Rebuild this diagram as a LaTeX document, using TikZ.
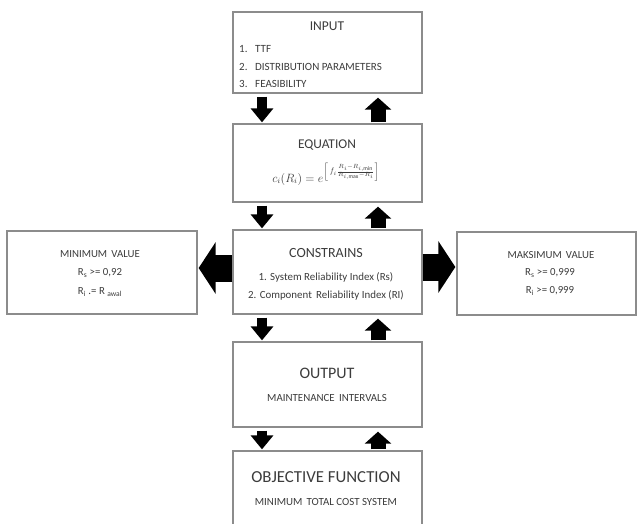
\documentclass[tikz,border=0pt]{standalone}
\usepackage{fontspec}
\setmainfont{Carlito}
\usetikzlibrary{arrows.meta,calc}
\definecolor{txt}{HTML}{3C3C3C}
\definecolor{edge}{HTML}{8C8C8C}
\tikzset{
  box/.style={draw=edge, line width=1.3pt, fill=white, inner sep=0pt},
  lbl/.style={text=txt, inner sep=0pt, font=\fontsize{#1}{#1}\selectfont},
  lbl/.default=11,
  downarrow/.style={line width=10pt, -{Triangle[width=22pt,length=14pt]}},
  uparrow/.style={line width=15pt, -{Triangle[width=26pt,length=12pt]}},
  sidearrow/.style={line width=27pt, -{Triangle[width=51pt,length=17pt]}},
}
\begin{document}
\begin{tikzpicture}[x=1pt,y=-1pt]
\clip (0,0) rectangle (638,523);
\fill[white] (0,0) rectangle (638,523);

% boxes of the central column
\node[box, minimum width=189pt, minimum height=81pt] (input) at (327.5,52.5) {};
\node[box, minimum width=189pt, minimum height=78pt] (eq)    at (327.5,163) {};
\node[box, minimum width=189pt, minimum height=84pt] (cons)  at (327.5,272) {};
\node[box, minimum width=189pt, minimum height=85pt] (out)   at (327.5,384.5) {};
\node[box, minimum width=189pt, minimum height=95pt] (obj)   at (327.5,498.5) {};
% side boxes
\node[box, minimum width=190pt, minimum height=83pt] (minv)  at (102,272.5) {};
\node[box, minimum width=179pt, minimum height=83pt] (maxv)  at (546.5,273.5) {};

% INPUT
\node[lbl=13.5] (inT) at (327,26) {INPUT};
\node[lbl, anchor=base west] (in1n) at (239,52) {1.};
\node[lbl, anchor=base west] (in1)  at (255,52) {TTF};
\node[lbl, anchor=base west] (in2n) at (239,70) {2.};
\node[lbl, anchor=base west] (in2)  at (255,70) {DISTRIBUTION PARAMETERS};
\node[lbl, anchor=base west] (in3n) at (239,87) {3.};
\node[lbl, anchor=base west] (in3)  at (255,87) {FEASIBILITY};

% EQUATION
\node[lbl=13.4] (eqT) at (327,145) {EQUATION};
\node[lbl=11.5] (eqF) at (326,174)
  {$c_i(R_i) = e^{\left[\, f_i\frac{R_i - R_{i,\min}}{R_{i,\max} - R_i}\right]}$};

% CONSTRAINS
\node[lbl=14] (cT) at (326,253) {CONSTRAINS};
\node[lbl=10.9] (c1) at (326,277) {1. System Reliability Index (Rs)};
\node[lbl=10.9] (c2) at (326,295) {2. Component\, Reliability Index (RI)};

% MINIMUM VALUE
\node[lbl=10.8] (mnT) at (100,254) {MINIMUM\, VALUE};
\node[lbl=10.8] (mn1) at (100,273) {R\textsubscript{s} >= 0,92};
\node[lbl=10.8] (mn2) at (100,292) {R\textsubscript{i} .= R \textsubscript{awal}};

% MAKSIMUM VALUE
\node[lbl=10.8] (mxT) at (551,255) {MAKSIMUM\, VALUE};
\node[lbl=10.8] (mx1) at (550,273) {R\textsubscript{s} >= 0,999};
\node[lbl=10.8] (mx2) at (550,291) {R\textsubscript{i} >= 0,999};

% OUTPUT
\node[lbl=16] (oT) at (327,373) {OUTPUT};
\node[lbl=10.9] (o1) at (327,398) {MAINTENANCE\, INTERVALS};

% OBJECTIVE FUNCTION
\node[lbl=16.8] (fT) at (326,477) {OBJECTIVE FUNCTION};
\node[lbl=10.9] (f1) at (326,502) {MINIMUM\, TOTAL COST SYSTEM};

% block arrows between the boxes
\foreach \a/\b in {input/eq, eq/cons, cons/out, out/obj}{
  \draw[downarrow] ([xshift=-65.5pt,yshift=-3pt]\a.south) -- ([xshift=-65.5pt,yshift=1pt]\b.north);
  \draw[uparrow]   ([xshift=50.5pt,yshift=1pt]\b.north) -- ([xshift=50.5pt,yshift=-4pt]\a.south);
}
\draw[sidearrow] ([yshift=4pt]cons.west) -- ([yshift=4pt, xshift=1pt]minv.east |- cons.west);
\draw[sidearrow] ([yshift=5pt]cons.east) -- ([yshift=5pt, xshift=-1pt]maxv.west |- cons.east);
\end{tikzpicture}
\end{document}
